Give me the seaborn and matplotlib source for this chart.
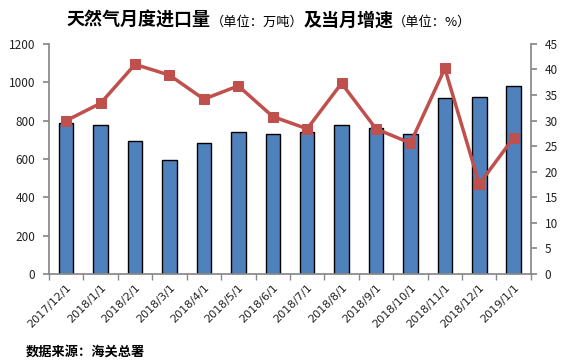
import numpy as np
import pandas as pd
import matplotlib
matplotlib.use("Agg")
import matplotlib.pyplot as plt
import seaborn as sns

months = ["2017/12/1", "2018/1/1", "2018/2/1", "2018/3/1", "2018/4/1", "2018/5/1",
          "2018/6/1", "2018/7/1", "2018/8/1", "2018/9/1", "2018/10/1", "2018/11/1",
          "2018/12/1", "2019/1/1"]
import_volume = [787, 776, 694, 593, 682, 739, 729, 739, 776, 760, 729, 916, 922, 981]
growth_rate = [30.0, 33.4, 41.0, 38.9, 34.2, 36.8, 30.8, 28.4, 37.3, 28.4, 25.6, 40.2, 17.6, 26.7]

sns.set_theme(style="white")
plt.rcParams['font.family'] = ['Noto Sans CJK SC', 'DejaVu Sans']

df = pd.DataFrame({"month": months, "volume": import_volume,
                   "growth": growth_rate, "idx": np.arange(len(months))})

fig = plt.figure(figsize=(5.63, 3.63), dpi=100)
ax = fig.add_axes([0.087, 0.245, 0.856, 0.634])

sns.barplot(data=df, x="month", y="volume", ax=ax, color="#4F81BD",
            edgecolor="black", linewidth=1.0, width=0.42, saturation=1)
ax.set_ylim(0, 1200)
ax.set_yticks(np.arange(0, 1201, 200))
ax.set_xlim(-0.5, len(months) - 0.5)
ax.set_xlabel("")
ax.set_ylabel("")

ax2 = ax.twinx()
sns.lineplot(data=df, x="idx", y="growth", ax=ax2, color="#C0504D", linewidth=2.5,
             marker="s", markersize=7.5, markeredgecolor="#C0504D")
ax2.set_ylim(0, 45)
ax2.set_yticks(np.arange(0, 46, 5))
ax2.set_xlim(-0.5, len(months) - 0.5)
ax2.set_ylabel("")
ax2.set_xlabel("")

for a in (ax, ax2):
    for s in a.spines.values():
        s.set_visible(False)
spine_col = "#888888"
ax.spines["left"].set_visible(True)
ax.spines["left"].set_color(spine_col)
ax.spines["bottom"].set_visible(True)
ax.spines["bottom"].set_color(spine_col)
ax2.spines["right"].set_visible(True)
ax2.spines["right"].set_color(spine_col)

ax.tick_params(axis="y", which="major", direction="out", length=4, color=spine_col,
               left=True, labelsize=8.5, labelcolor="#222222", pad=6)
ax2.tick_params(axis="y", which="major", direction="out", length=4, color=spine_col,
                right=True, labelsize=8.5, labelcolor="#222222", pad=6)

ax.set_xticks(np.arange(len(months)))
ax.set_xticklabels(months, rotation=45, ha="right", rotation_mode="anchor", fontsize=8,
                   family=["DejaVu Sans"])
ax.tick_params(axis="x", which="major", length=0, pad=6, labelcolor="#222222")
ax.set_xticks(np.arange(-0.5, len(months), 1), minor=True)
ax.tick_params(axis="x", which="minor", direction="out", length=4, color=spine_col, bottom=True)

# Title assembled from parts of different sizes
parts = [("天然气月度进口量", 13, "bold"), ("（单位：万吨）", 9.5, "normal"),
         ("及当月增速", 13, "bold"), ("（单位：%）", 9.5, "normal")]
fig.canvas.draw()
renderer = fig.canvas.get_renderer()
texts = []
widths = []
for s, fs, fw in parts:
    t = fig.text(0, 0.93, s, fontsize=fs, fontweight=fw, va="baseline", ha="left",
                 color="black")
    bb = t.get_window_extent(renderer)
    texts.append(t)
    widths.append(bb.width / fig.bbox.width)
total = sum(widths)
x = 0.478 - total / 2
for t, w in zip(texts, widths):
    t.set_x(x)
    x += w

fig.text(0.045, 0.02, "数据来源：海关总署", fontsize=9.5, fontweight="bold", color="black")

fig.savefig("out.png", dpi=100, facecolor="white")
